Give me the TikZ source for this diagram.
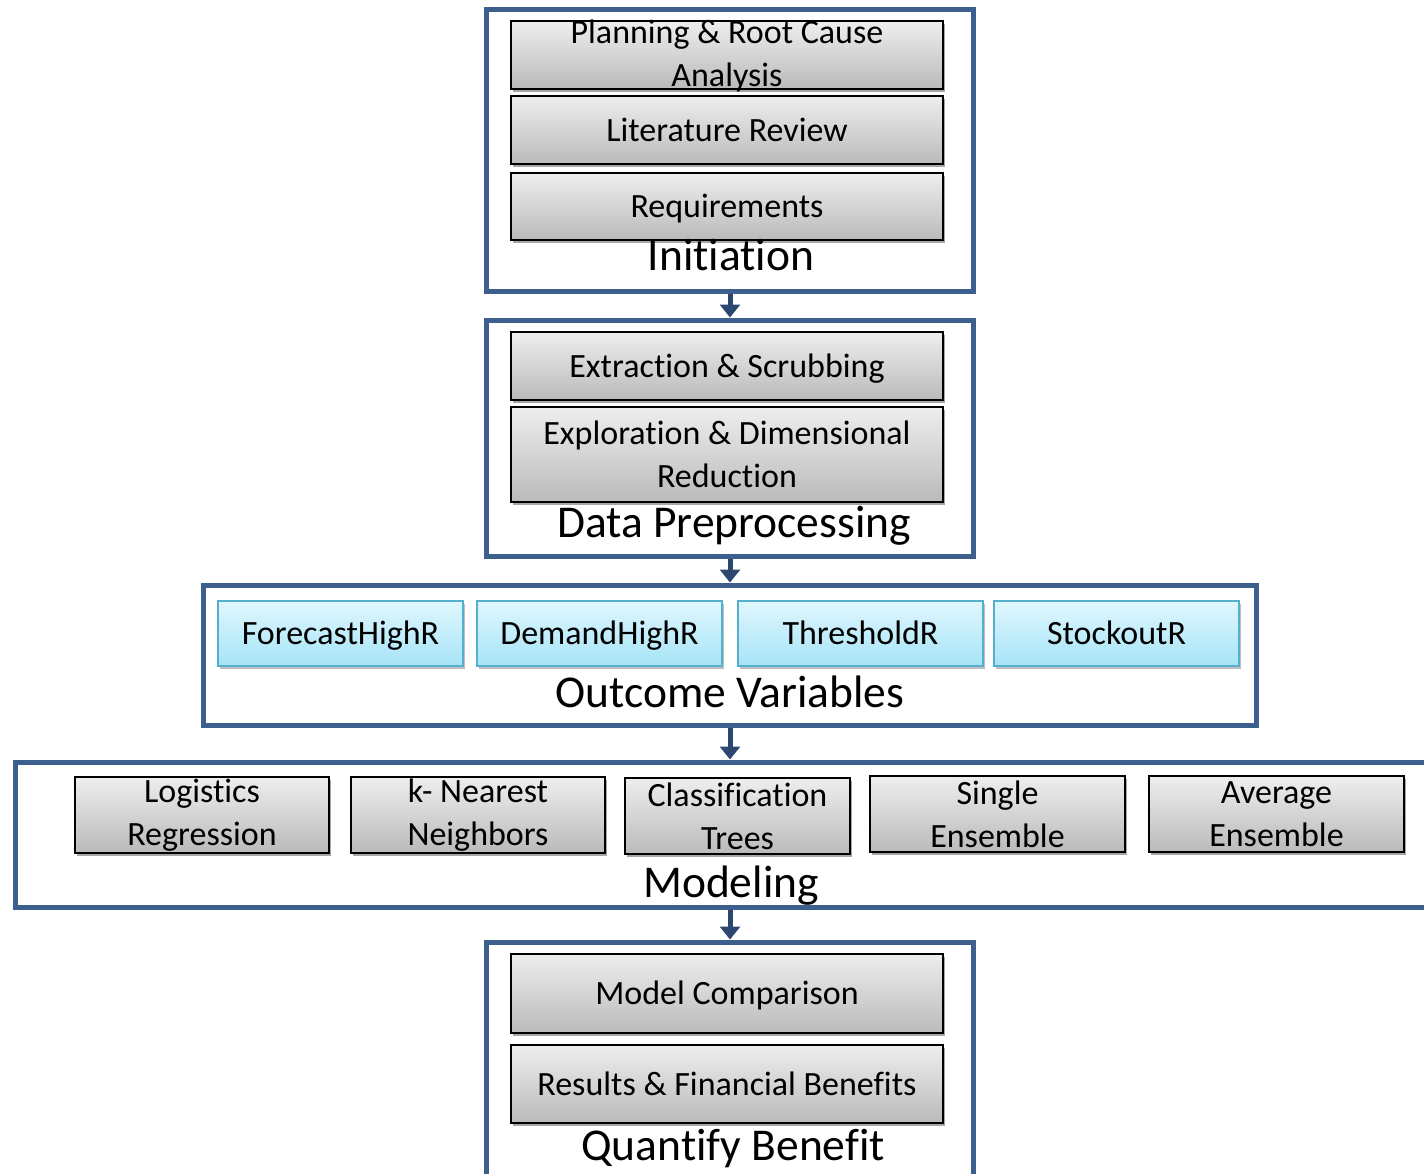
\documentclass[tikz,border=0pt]{standalone}
\usepackage{fontspec}
\setmainfont{Carlito}[Ligatures={NoCommon,NoRequired,NoContextual}]
\usetikzlibrary{arrows.meta,shadows}
\definecolor{frameblue}{RGB}{60,95,142}
\definecolor{arrowblue}{RGB}{44,72,112}
\definecolor{blueedge}{RGB}{84,176,204}
\definecolor{bluetop}{RGB}{224,247,254}
\definecolor{bluebot}{RGB}{166,228,247}
\definecolor{graytop}{RGB}{238,238,238}
\definecolor{graybot}{RGB}{186,186,186}
\begin{document}
\begin{tikzpicture}[x=1pt,y=-1pt,
  frame/.style={draw=frameblue, line width=5pt, fill=white, inner sep=0pt},
  boxshadow/.style={drop shadow={shadow xshift=2pt, shadow yshift=-3pt, opacity=0.35, fill=black}},
  gbox/.style={draw=black, line width=2.2pt, top color=graytop, bottom color=graybot,
    boxshadow, inner sep=0pt, font=\fontsize{34}{43}\selectfont, align=center},
  gone/.style={gbox, text height=22pt, text depth=0pt},
  bbox/.style={draw=blueedge, line width=2.2pt, top color=bluetop, bottom color=bluebot,
    drop shadow={shadow xshift=2pt, shadow yshift=-3pt, opacity=0.25, fill=black},
    inner sep=0pt, font=\fontsize{34}{43}\selectfont, text height=22pt, text depth=0pt,
    minimum width=245pt, minimum height=65pt},
  ttl/.style={font=\fontsize{45.5}{54}\selectfont, anchor=base},
  txt/.style={font=\fontsize{34}{43}\selectfont, align=center},
  arr/.style={draw=arrowblue, line width=5pt, -{Triangle[length=13pt,width=20pt]}}
]
\useasboundingbox (0,0) rectangle (1424,1173);

% frames
\node[frame, minimum width=487pt, minimum height=282pt] (init) at (730,150) {};
\node[frame, minimum width=487pt, minimum height=236pt] (prep) at (730,438) {};
\node[frame, minimum width=1053pt, minimum height=140pt] (outc) at (730,655) {};
\node[frame, minimum width=1430pt, minimum height=145pt] (model) at (730,834.5) {};
\node[frame, minimum width=487pt, minimum height=260pt] (quant) at (730,1072) {};

% arrows
\draw[arr] (init.south) -- (prep.north);
\draw[arr] (prep.south) -- (outc.north);
\draw[arr] (outc.south) -- (model.north);
\draw[arr] (model.south) -- (quant.north);

% Initiation
\node[gbox, minimum width=432pt, minimum height=68pt] (plan) at (727,55) {};
\node[txt] (plantxt) at (727,56) {Planning \& Root Cause\\Analysis};
\node[gone, minimum width=432pt, minimum height=68pt] (lit) at (727,130) {Literature Review};
\node[gone, minimum width=432pt, minimum height=67pt] (req) at (727,206.5) {Requirements};
\node[ttl] (initlbl) at (731,270) {Initiation};

% Data preprocessing
\node[gone, minimum width=432pt, minimum height=68pt] (extr) at (727,366) {Extraction \& Scrubbing};
\node[gbox, minimum width=432pt, minimum height=95pt] (expl) at (727,454.5) {Exploration \& Dimensional\\Reduction};
\node[ttl] (preplbl) at (734,537) {Data Preprocessing};

% Outcome variables
\node[bbox] (fh) at (340.5,633.5) {ForecastHighR};
\node[bbox] (dh) at (599.5,633.5) {DemandHighR};
\node[bbox] (th) at (860.5,633.5) {ThresholdR};
\node[bbox] (so) at (1116.5,633.5) {StockoutR};
\node[ttl] (outclbl) at (730,707) {Outcome Variables};

% Modeling
\node[gbox, minimum width=254pt, minimum height=76pt] (lr) at (202,815) {Logistics\\Regression};
\node[gbox, minimum width=254pt, minimum height=76pt] (knn) at (478,815) {k- Nearest\\Neighbors};
\node[gbox, minimum width=225pt, minimum height=76pt] (ct) at (737.5,816) {Classification\\Trees};
\node[gbox, minimum width=255pt, minimum height=76pt] (se) at (997.5,814) {Single\\Ensemble};
\node[gbox, minimum width=255pt, minimum height=76pt] (ae) at (1276.5,814) {Average\\Ensemble};
\node[ttl] (modellbl) at (731,897) {Modeling};

% Quantify benefit
\node[gone, minimum width=432pt, minimum height=79pt] (mc) at (727,993.5) {Model Comparison};
\node[gone, minimum width=432pt, minimum height=78pt] (res) at (727,1084) {Results \& Financial Benefits};
\node[ttl] (quantlbl) at (733,1160) {Quantify Benefit};
\end{tikzpicture}
\end{document}
